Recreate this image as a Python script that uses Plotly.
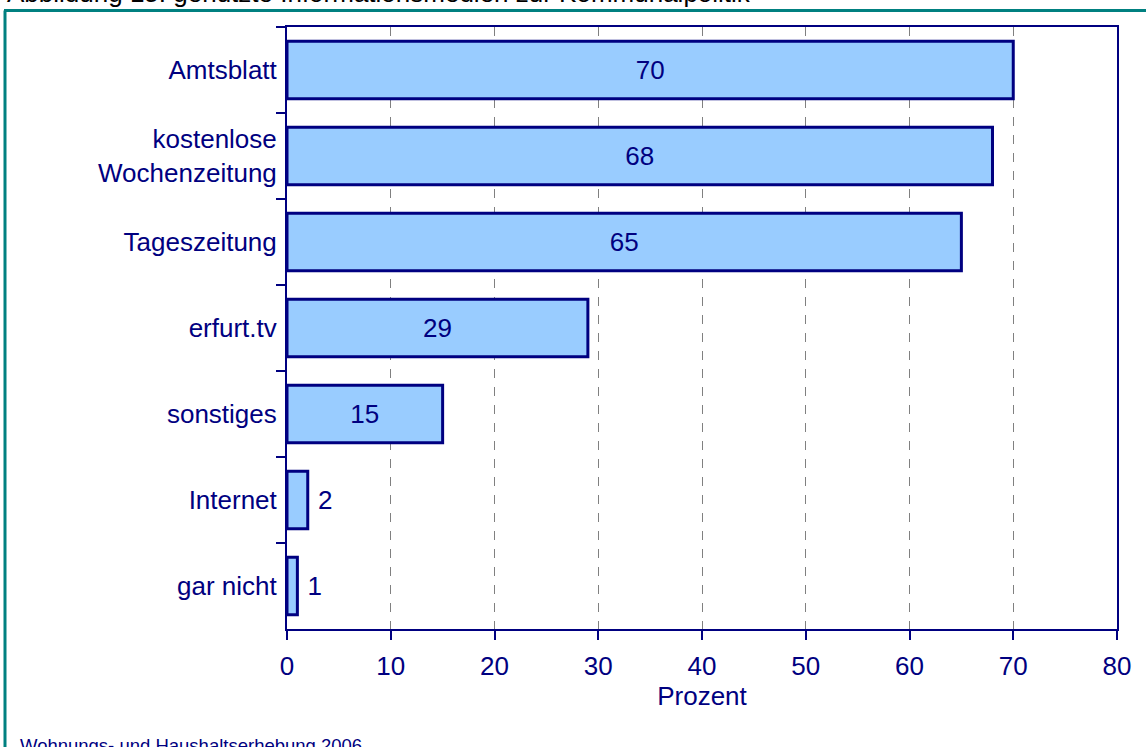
import plotly.graph_objects as go

categories = ["Amtsblatt", "kostenlose<br>Wochenzeitung", "Tageszeitung", "erfurt.tv",
              "sonstiges", "Internet", "gar nicht"]
values = [70, 68, 65, 29, 15, 2, 1]
x_ticks = [0, 10, 20, 30, 40, 50, 60, 70, 80]
title_text = "Abbildung 15: genutzte Informationsmedien zur Kommunalpolitik"
source_text = "Wohnungs- und Haushaltserhebung 2006"
x_title = "Prozent"

NAVY = "#000080"
FONT = "Liberation Sans, Arial"
FS = 26
W, H = 1146, 747
L, R, T, B = 287, 1117, 27, 629

def px(xp):
    return (xp - L) / (R - L)

def py(yp):
    return (B - yp) / (B - T)

text_labels = [str(v) if v >= 10 else "\u00a0" + str(v) for v in values]
text_pos = ["inside" if v >= 10 else "outside" for v in values]

fig = go.Figure()
fig.add_trace(go.Bar(
    y=categories, x=values, orientation="h",
    marker=dict(color="#99CCFF", line=dict(color=NAVY, width=3)),
    text=text_labels, textposition=text_pos,
    insidetextanchor="middle", constraintext="none",
    textfont=dict(family=FONT, size=FS, color=NAVY),
    outsidetextfont=dict(family=FONT, size=FS, color=NAVY),
    insidetextfont=dict(family=FONT, size=FS, color=NAVY),
    cliponaxis=False, hoverinfo="skip",
))

fig.update_layout(
    width=W, height=H,
    margin=dict(l=L, r=W - R, t=T, b=H - B, autoexpand=False),
    paper_bgcolor="white", plot_bgcolor="white",
    bargap=0.33, showlegend=False,
    uniformtext=dict(minsize=FS, mode="show"),
    font=dict(family=FONT, size=FS, color=NAVY),
    xaxis=dict(range=[0, 80], tickvals=x_ticks, ticks="outside", ticklen=9,
               tickwidth=2, tickcolor=NAVY, showline=True, linecolor=NAVY,
               linewidth=2, mirror=True, showgrid=True, gridcolor="#808080",
               griddash="dash", gridwidth=1, zeroline=False,
               ticklabelstandoff=4,
               tickfont=dict(family=FONT, size=FS, color=NAVY),
               title=dict(text=x_title, font=dict(family=FONT, size=FS, color=NAVY), standoff=2)),
    yaxis=dict(type="category", categoryorder="array", categoryarray=categories,
               autorange="reversed", tickson="boundaries", ticks="outside",
               ticklen=9, tickwidth=2, tickcolor=NAVY, showline=True,
               linecolor=NAVY, linewidth=2, mirror=True, showgrid=False,
               ticklabelstandoff=3,
               tickfont=dict(family=FONT, size=FS, color=NAVY)),
)

fig.add_annotation(text=title_text, xref="paper", yref="paper",
                   x=px(6), y=py(9.5), xanchor="left", yanchor="bottom",
                   borderpad=0, showarrow=False,
                   font=dict(family=FONT, size=FS, color="black"))
fig.add_annotation(text=source_text, xref="paper", yref="paper",
                   x=px(18), y=py(745), xanchor="left", yanchor="middle",
                   showarrow=False, font=dict(family=FONT, size=18.5, color=NAVY))

# teal outer frame
fig.add_shape(type="line", xref="paper", yref="paper",
              x0=px(4), x1=px(1150), y0=py(10.5), y1=py(10.5),
              line=dict(color="#008080", width=3), layer="above")
fig.add_shape(type="line", xref="paper", yref="paper",
              x0=px(5), x1=px(5), y0=py(10.5), y1=py(760),
              line=dict(color="#008080", width=3), layer="above")

fig.write_html("out.html", config={"displayModeBar": False},
               post_script="document.body.style.margin='0';")
